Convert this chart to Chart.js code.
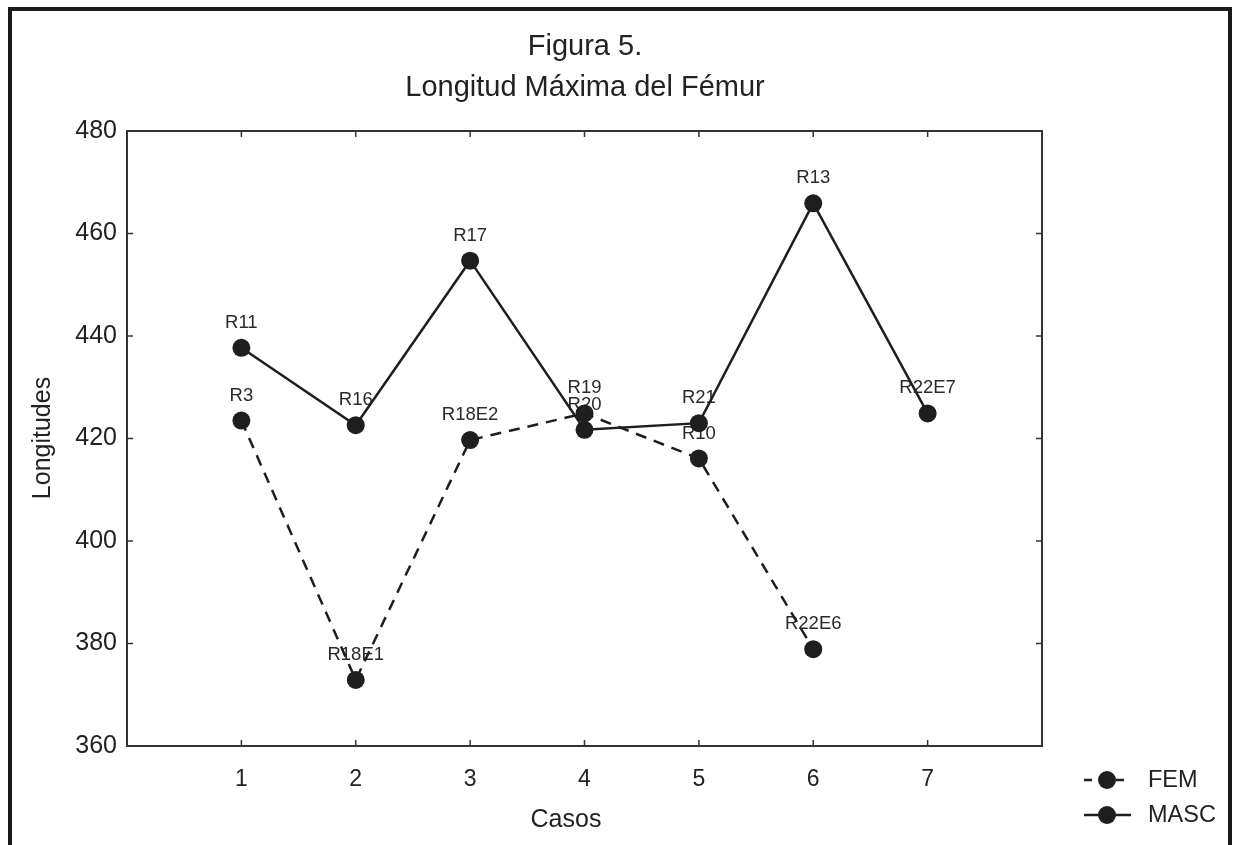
<!DOCTYPE html>
<html>
<head>
<meta charset="utf-8">
<script src="https://cdn.jsdelivr.net/npm/chart.js@4.4.0/dist/chart.umd.min.js"></script>
<style>
html, body { margin: 0; padding: 0; background: #fff; }
canvas { display: block; }
</style>
</head>
<body>
<canvas id="femurChart" width="1236" height="845"></canvas>
<script>
const casos = [1, 2, 3, 4, 5, 6, 7];
const yTicks = [360, 380, 400, 420, 440, 460, 480];
const femValues = [423.5, 372.9, 419.7, 424.9, 416.1, 378.9];
const femLabels = ['R3', 'R18E1', 'R18E2', 'R19', 'R10', 'R22E6'];
const mascValues = [437.7, 422.6, 454.7, 421.7, 423.0, 465.9, 424.9];
const mascLabels = ['R11', 'R16', 'R17', 'R20', 'R21', 'R13', 'R22E7'];

const FONT = "'Liberation Sans', Arial, Helvetica, sans-serif";
const INK = '#1e1e1e';

function toPoints(values) {
    return values.map((v, i) => ({ x: casos[i], y: v }));
}

// frame, inward ticks, titles, point labels, legend
const decor = {
    id: 'decor',
    beforeDatasetsDraw(chart) {
        const ctx = chart.ctx;
        const a = chart.chartArea;
        const xs = chart.scales.x;
        const ys = chart.scales.y;
        ctx.save();
        ctx.strokeStyle = '#333';
        ctx.lineWidth = 2;
        ctx.strokeRect(a.left, a.top, a.right - a.left, a.bottom - a.top);
        ctx.lineWidth = 1.5;
        ctx.beginPath();
        casos.forEach(c => {
            const px = xs.getPixelForValue(c);
            ctx.moveTo(px, a.bottom); ctx.lineTo(px, a.bottom - 6);
            ctx.moveTo(px, a.top); ctx.lineTo(px, a.top + 6);
        });
        yTicks.forEach(t => {
            const py = ys.getPixelForValue(t);
            ctx.moveTo(a.left, py); ctx.lineTo(a.left + 6, py);
            ctx.moveTo(a.right, py); ctx.lineTo(a.right - 6, py);
        });
        ctx.stroke();

        // point labels
        ctx.fillStyle = '#2a2a2a';
        ctx.font = '18.5px ' + FONT;
        ctx.textAlign = 'center';
        ctx.textBaseline = 'middle';
        const allLabels = [femLabels, mascLabels];
        chart.data.datasets.forEach((ds, di) => {
            const meta = chart.getDatasetMeta(di);
            meta.data.forEach((pt, i) => {
                ctx.fillText(allLabels[di][i], pt.x, pt.y - 25);
            });
        });
        ctx.restore();
    },
    afterDraw(chart) {
        const ctx = chart.ctx;
        ctx.save();
        // outer frame
        ctx.strokeStyle = '#1a1a1a';
        ctx.lineWidth = 4;
        ctx.beginPath();
        ctx.moveTo(10, 860); ctx.lineTo(10, 9); ctx.lineTo(1230, 9); ctx.lineTo(1230, 860);
        ctx.stroke();

        ctx.fillStyle = '#222';
        ctx.textAlign = 'center';
        ctx.textBaseline = 'middle';
        ctx.font = '29px ' + FONT;
        ctx.fillText('Figura 5.', 585, 47);
        ctx.fillText('Longitud Máxima del Fémur', 585, 88);

        ctx.font = '25px ' + FONT;
        ctx.fillText('Casos', 566, 820);
        ctx.save();
        ctx.translate(43, 438);
        ctx.rotate(-Math.PI / 2);
        ctx.fillText('Longitudes', 0, 0);
        ctx.restore();

        // legend
        const rows = [{ y: 780, dash: [8, 8] }, { y: 815, dash: [] }];
        chart.data.datasets.forEach((ds, i) => {
            const r = rows[i];
            ctx.strokeStyle = INK;
            ctx.lineWidth = 2.5;
            ctx.setLineDash(r.dash);
            ctx.beginPath();
            ctx.moveTo(1084, r.y); ctx.lineTo(1131, r.y);
            ctx.stroke();
            ctx.setLineDash([]);
            ctx.fillStyle = INK;
            ctx.beginPath();
            ctx.arc(1107, r.y, 9, 0, Math.PI * 2);
            ctx.fill();
            ctx.fillStyle = '#222';
            ctx.textAlign = 'left';
            ctx.font = '23.5px ' + FONT;
            ctx.fillText(ds.label, 1148, r.y + 1);
        });
        ctx.restore();
    }
};

new Chart(document.getElementById('femurChart'), {
    type: 'scatter',
    data: {
        datasets: [
            {
                label: 'FEM',
                data: toPoints(femValues),
                showLine: true,
                borderColor: INK,
                borderWidth: 2.5,
                borderDash: [11, 8],
                backgroundColor: INK,
                pointRadius: 9,
                pointBorderWidth: 0,
                pointBackgroundColor: INK
            },
            {
                label: 'MASC',
                data: toPoints(mascValues),
                showLine: true,
                borderColor: INK,
                borderWidth: 2.5,
                backgroundColor: INK,
                pointRadius: 9,
                pointBorderWidth: 0,
                pointBackgroundColor: INK
            }
        ]
    },
    options: {
        responsive: false,
        animation: false,
        devicePixelRatio: 1,
        layout: {
            padding: { left: 0, top: 131, right: 194, bottom: 0 }
        },
        scales: {
            x: {
                type: 'linear',
                min: 0,
                max: 8,
                afterBuildTicks: scale => { scale.ticks = casos.map(v => ({ value: v })); },
                afterFit: scale => { scale.height = 99; },
                grid: { display: false, drawTicks: false },
                border: { display: false },
                ticks: {
                    color: '#222',
                    padding: 20,
                    font: { family: FONT, size: 23 }
                }
            },
            y: {
                min: 360,
                max: 480,
                afterBuildTicks: scale => { scale.ticks = yTicks.map(v => ({ value: v })); },
                afterFit: scale => { scale.width = 127; },
                grid: { display: false, drawTicks: false },
                border: { display: false },
                ticks: {
                    color: '#222',
                    padding: 10,
                    font: { family: FONT, size: 25 }
                }
            }
        },
        plugins: {
            legend: { display: false },
            tooltip: { enabled: false }
        }
    },
    plugins: [decor]
});
</script>
</body>
</html>
